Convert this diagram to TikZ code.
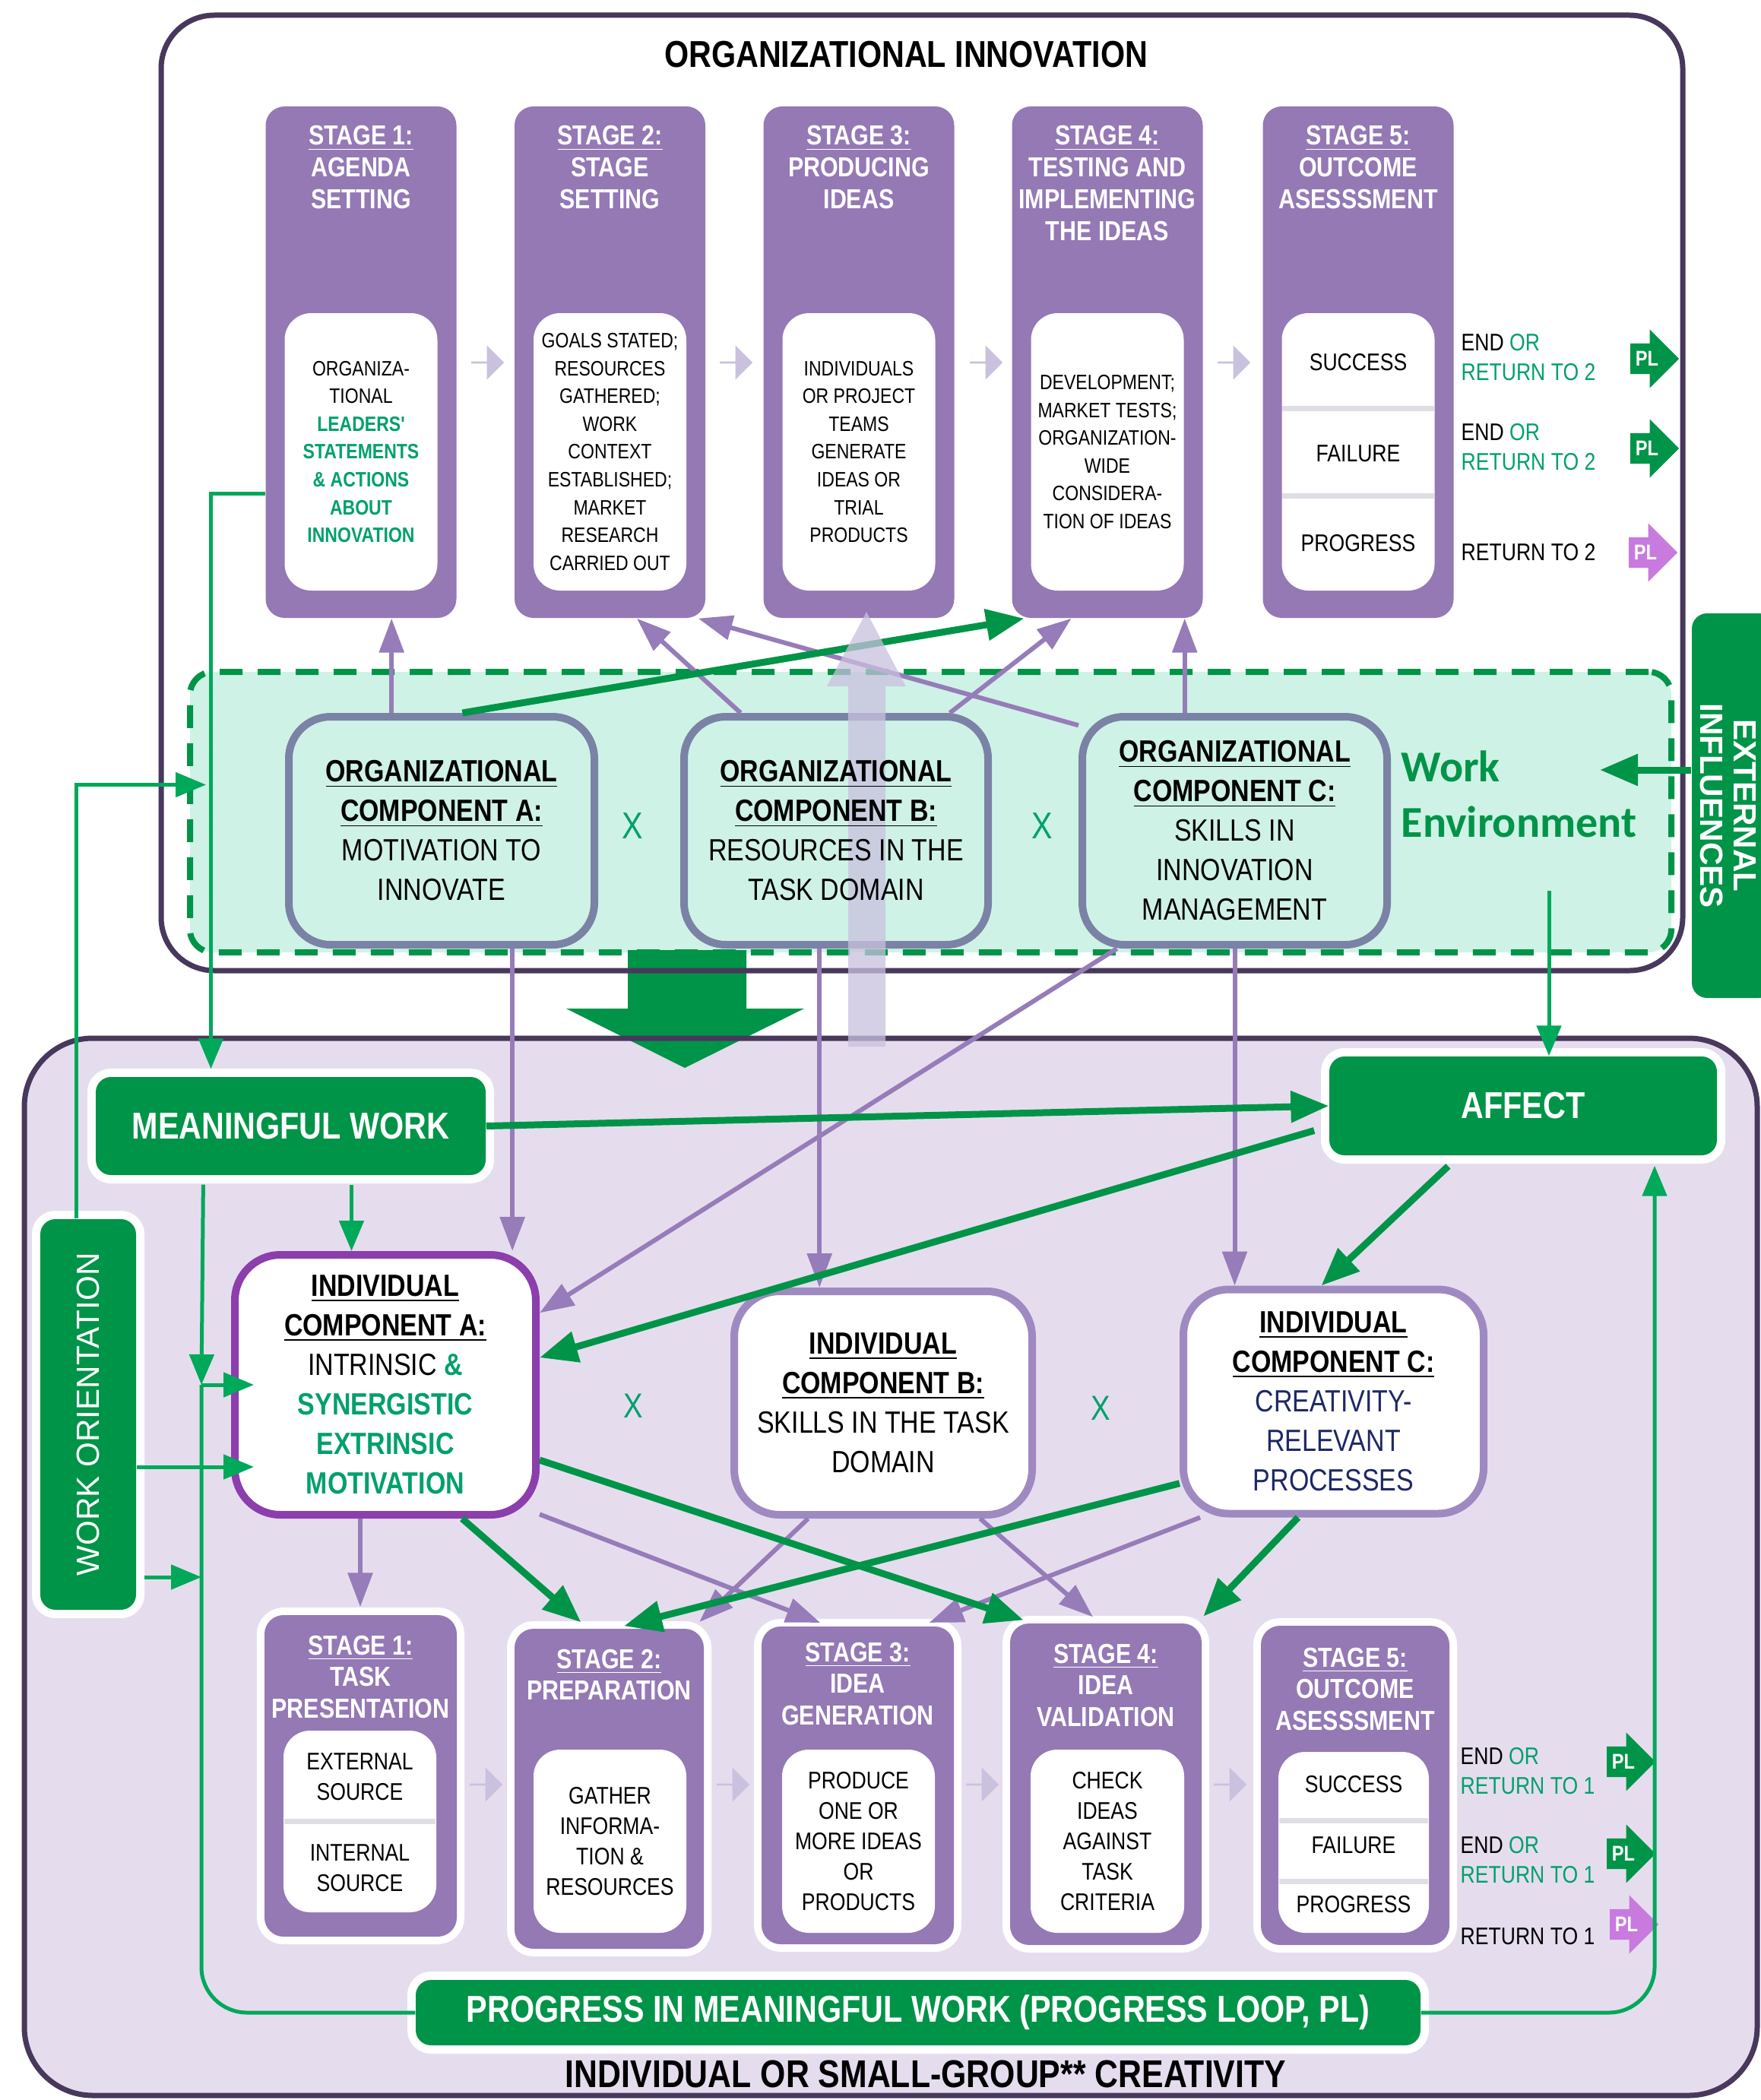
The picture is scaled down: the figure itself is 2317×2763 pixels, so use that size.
\documentclass[tikz,border=0pt]{standalone}
\usepackage{fontspec}
\setmainfont{Liberation Sans}
\newfontfamily\nar[FakeStretch=0.84]{Liberation Sans}
\newfontfamily\calib{Carlito}
\usetikzlibrary{arrows.meta,shapes.arrows,calc}

\definecolor{stagepurple}{RGB}{148,121,181}
\definecolor{lavbg}{RGB}{229,221,238}
\definecolor{mintbg}{RGB}{207,242,230}
\definecolor{darkrim}{RGB}{72,56,92}
\definecolor{orgrim}{RGB}{122,130,165}
\definecolor{indrimA}{RGB}{139,62,172}
\definecolor{indrim}{RGB}{158,138,192}
\definecolor{gfill}{RGB}{0,148,72}
\definecolor{gline}{RGB}{0,168,90}
\definecolor{gtext}{RGB}{0,160,108}
\definecolor{purparrow}{RGB}{150,124,185}
\definecolor{smallarr}{RGB}{201,193,222}
\definecolor{plpink}{RGB}{200,122,222}
\definecolor{navy}{RGB}{30,40,100}
\definecolor{divgrey}{RGB}{222,222,228}

\newcommand{\ubf}[1]{\underline{\textbf{#1}}}
\newcommand{\gb}[1]{\textcolor{gtext}{\textbf{#1}}}

\tikzset{
  stagebox/.style={fill=stagepurple, rounded corners=2.5mm, inner sep=0},
  ringbox/.style={stagebox, preaction={draw=white, line width=2mm}},
  innerbox/.style={fill=white, rounded corners=3.5mm, inner sep=0},
  headtxt/.style={text=white, font=\nar\bfseries\fontsize{10.3}{11.9}\selectfont, align=center, inner sep=0, anchor=north},
  toptxt/.style={font=\nar\fontsize{7.8}{10.4}\selectfont, align=center, inner sep=0},
  bottxt/.style={font=\nar\fontsize{9}{11.4}\selectfont, align=center, inner sep=0},
  comptxt/.style={align=center, inner sep=0, font=\nar\fontsize{11.5}{14.8}\selectfont},
  orgcomp/.style={comptxt, draw=orgrim, line width=1mm, fill=mintbg, rounded corners=5.5mm, minimum height=30mm, minimum width=40mm},
  indcomp/.style={comptxt, draw=indrim, line width=1mm, fill=white, rounded corners=6mm},
  greenbox/.style={fill=gfill, text=white, rounded corners=2mm, inner sep=0, preaction={draw=white, line width=2.2mm}, font=\nar\bfseries\fontsize{14}{16}\selectfont},
  endlab/.style={font=\nar\fontsize{9}{11}\selectfont, align=left, inner sep=0, anchor=west},
  plarrow/.style={single arrow, fill=#1, text=white, font=\nar\bfseries\fontsize{8}{8}\selectfont, inner sep=0.6mm, minimum height=6.4mm, minimum width=7.7mm, single arrow head extend=1.5mm, anchor=tip},
  steparrow/.style={single arrow, fill=smallarr, inner sep=0, minimum height=4.3mm, minimum width=4.5mm, single arrow head extend=1.1mm},
  xmark/.style={text=gtext, font=\nar\fontsize{14}{14}\selectfont, inner sep=0},
  parr/.style={draw=purparrow, line width=0.6mm, -{Triangle[length=4.5mm, width=3.2mm]}},
  garr/.style={draw=gfill, line width=0.9mm, -{Triangle[length=5mm, width=4mm]}},
  gthin/.style={draw=gline, line width=0.5mm, -{Triangle[length=4mm, width=3.2mm]}},
}

\begin{document}
\begin{tikzpicture}[x=0.1mm, y=-0.1mm]
  \useasboundingbox (0,0) rectangle (2317,2763);
  \fill[white] (0,0) rectangle (2317,2763);

  % panels
  \fill[lavbg, rounded corners=9mm] (32,1366) rectangle (2312,2757);
  \node[fill=mintbg, draw=gfill, line width=0.8mm, dash pattern=on 3mm off 2mm, rounded corners=3mm,
        minimum width=194.9mm, minimum height=36.9mm, inner sep=0] (we) at (1224.5,1068.5) {};

  % big arrow down
  \fill[gfill] (826,1250) -- (982,1250) -- (982,1327) -- (1058,1327) -- (901,1405)
    -- (745,1327) -- (826,1327) -- cycle;

  \draw[darkrim, line width=0.7mm, rounded corners=9mm] (32,1366) rectangle (2312,2757);
  \draw[darkrim, line width=0.7mm, rounded corners=7mm] (212,20) rectangle (2214,1277);

  \node[font=\nar\bfseries\fontsize{14}{16}\selectfont] (ttl) at (1192,72) {ORGANIZATIONAL INNOVATION};

  % organizational stages
  \foreach \i/\cx in {1/475,2/802.5,3/1130,4/1457,5/1787} {
    \node[stagebox, minimum width=25.1mm, minimum height=67.3mm] (os\i) at (\cx,476.5) {};
    \node[innerbox, minimum width=20.1mm, minimum height=36.5mm] (oi\i) at (\cx,594.5) {};
  }
  \foreach \i/\cx/\txt in {1/475/{AGENDA\\SETTING}, 2/802.5/{STAGE\\SETTING}, 3/1130/{PRODUCING\\IDEAS},
      4/1457/{TESTING AND\\IMPLEMENTING\\THE IDEAS}, 5/1787/{OUTCOME\\ASESSSMENT}}
    \node[headtxt] (oh\i) at (\cx,165) {\underline{STAGE \i:}\\\txt};

  \node[toptxt] (ot1) at (oi1) {ORGANIZA-\\TIONAL\\\gb{LEADERS'}\\\gb{STATEMENTS}\\\gb{\& ACTIONS}\\\gb{ABOUT}\\\gb{INNOVATION}};
  \node[toptxt] (ot2) at (oi2) {GOALS STATED;\\RESOURCES\\GATHERED;\\WORK\\CONTEXT\\ESTABLISHED;\\MARKET\\RESEARCH\\CARRIED OUT};
  \node[toptxt] (ot3) at (oi3) {INDIVIDUALS\\OR PROJECT\\TEAMS\\GENERATE\\IDEAS OR\\TRIAL\\PRODUCTS};
  \node[toptxt] (ot4) at (oi4) {DEVELOPMENT;\\MARKET TESTS;\\ORGANIZATION-\\WIDE\\CONSIDERA-\\TION OF IDEAS};

  \draw[divgrey, line width=0.7mm] (1687,537) -- (1887,537) (1687,652) -- (1887,652);
  \node[bottxt] (o5a) at (1787,477) {SUCCESS};
  \node[bottxt] (o5b) at (1787,597) {FAILURE};
  \node[bottxt] (o5c) at (1787,715) {PROGRESS};

  \foreach \j/\ax in {1/641,2/968,3/1297,4/1623}
    \node[steparrow] (ta\j) at (\ax,477) {};

  \node[endlab] (ol1) at (1922,470) {END \textcolor{gtext}{OR}\\\textcolor{gtext}{RETURN TO 2}};
  \node[endlab] (ol2) at (1922,588) {END \textcolor{gtext}{OR}\\\textcolor{gtext}{RETURN TO  2}};
  \node[endlab] (ol3) at (1922,727) {RETURN TO 2};
  \node[plarrow=gfill] (op1) at (2210,472) {PL};
  \node[plarrow=gfill] (op2) at (2210,590) {PL};
  \node[plarrow=plpink] (op3) at (2208,727) {PL};

  % external influences
  \node[fill=gfill, rounded corners=2mm, minimum width=10.8mm, minimum height=50.6mm, inner sep=0] (ext) at (2280,1060) {};
  \node[text=white, inner sep=0, font=\bfseries\fontsize{12}{12.5}\selectfont] (extt) at (2268,1060)
        {\rotatebox{-90}{\begin{tabular}{@{}c@{}}EXTERNAL\\INFLUENCES\end{tabular}}};

  % organizational components
  \node[orgcomp, minimum width=40.2mm] (oa) at (581,1093) {\ubf{ORGANIZATIONAL}\\\ubf{COMPONENT A:}\\MOTIVATION TO\\INNOVATE};
  \node[orgcomp] (ob) at (1100,1093) {};
  \node[orgcomp, minimum width=40.1mm] (oc) at (1624.5,1093) {\ubf{ORGANIZATIONAL}\\\ubf{COMPONENT C:}\\SKILLS IN\\INNOVATION\\MANAGEMENT};
  \node[xmark] (xo1) at (832,1087) {X};
  \node[xmark] (xo2) at (1371,1087) {X};
  \node[anchor=west, align=left, inner sep=0, text=gfill, font=\calib\bfseries\fontsize{16.5}{20.8}\selectfont] (wel) at (1843,1045) {Work\\Environment};

  % links inside the organization
  \draw[parr] (oa.113) -- (oa.113 |- os1.south);
  \draw[parr] (ob.129) -- (os2.-84);
  \draw[parr] (ob.46) -- (os4.-98);
  \draw[parr] (oc.146) -- (os2.-71);
  \draw[parr] (oc.113) -- (oc.113 |- os4.south);
  \draw[garr] (oa.80) -- (os4.-108);

  \coordinate (weR) at (2105,1013);
  \draw[garr] (weR -| ext.west) -- (weR);

  % individual components
  \node[greenbox, minimum width=51.3mm, minimum height=12.9mm] (mw) at (382.5,1481.5) {MEANINGFUL WORK};
  \node[greenbox, minimum width=51mm, minimum height=13mm] (af) at (2004,1455) {AFFECT};
  \node[greenbox, minimum width=12.6mm, minimum height=51.4mm, font=\fontsize{12}{14}\selectfont] (wo) at (116,1861) {\rotatebox{90}{WORK ORIENTATION}};

  \node[indcomp, draw=indrimA, minimum width=39.6mm, minimum height=34.2mm] (ia) at (507,1822)
    {\ubf{INDIVIDUAL}\\\ubf{COMPONENT A:}\\INTRINSIC \gb{\&}\\\gb{SYNERGISTIC}\\\gb{EXTRINSIC}\\\gb{MOTIVATION}};
  \node[indcomp, minimum width=39.2mm, minimum height=29.4mm] (ib) at (1162,1846)
    {\ubf{INDIVIDUAL}\\\ubf{COMPONENT B:}\\SKILLS IN THE TASK\\DOMAIN};
  \node[indcomp, minimum width=39.5mm, minimum height=29.5mm] (ic) at (1754.5,1844)
    {\ubf{INDIVIDUAL}\\\ubf{COMPONENT C:}\\\textcolor{navy}{CREATIVITY-}\\\textcolor{navy}{RELEVANT}\\\textcolor{navy}{PROCESSES}};
  \node[xmark, font=\nar\fontsize{13}{13}\selectfont] (xi1) at (833,1850) {X};
  \node[xmark, font=\nar\fontsize{13}{13}\selectfont] (xi2) at (1448,1853) {X};

  % creativity stages
  \node[ringbox, minimum width=25.3mm, minimum height=42.3mm] (bs1) at (474.5,2336.5) {};
  \node[ringbox, minimum width=24.9mm, minimum height=42.1mm] (bs2) at (801.5,2353.5) {};
  \node[ringbox, minimum width=25.3mm, minimum height=41.8mm] (bs3) at (1128.5,2349) {};
  \node[ringbox, minimum width=25.2mm, minimum height=42.3mm] (bs4) at (1455,2347.5) {};
  \node[ringbox, minimum width=24.8mm, minimum height=42mm] (bs5) at (1783,2349) {};

  \node[headtxt] (bh1) at (474.5,2151) {\underline{STAGE 1:}\\TASK\\PRESENTATION};
  \node[headtxt] (bh2) at (801.5,2169) {\underline{STAGE 2:}\\PREPARATION};
  \node[headtxt] (bh3) at (1128.5,2160) {\underline{STAGE 3:}\\IDEA\\GENERATION};
  \node[headtxt] (bh4) at (1455,2162) {\underline{STAGE 4:}\\IDEA\\VALIDATION};
  \node[headtxt] (bh5) at (1783,2167) {\underline{STAGE 5:}\\OUTCOME\\ASESSSMENT};

  \node[innerbox, minimum width=20.1mm, minimum height=23.9mm] (bi1) at (473.5,2396.5) {};
  \node[innerbox, minimum width=20.1mm, minimum height=24.1mm] (bi2) at (802.5,2422.5) {};
  \node[innerbox, minimum width=20.1mm, minimum height=24.1mm] (bi3) at (1129.5,2422.5) {};
  \node[innerbox, minimum width=20.2mm, minimum height=24.1mm] (bi4) at (1457,2422.5) {};
  \node[innerbox, minimum width=19.8mm, minimum height=23.8mm] (bi5) at (1781,2424) {};
  \draw[divgrey, line width=0.7mm] (374,2396) -- (573,2396) (1683,2395) -- (1879,2395) (1683,2475) -- (1879,2475);

  \node[bottxt] (bt1a) at (473.5,2338) {EXTERNAL\\SOURCE};
  \node[bottxt] (bt1b) at (473.5,2458) {INTERNAL\\SOURCE};
  \node[bottxt] (bt2) at (bi2) {GATHER\\INFORMA-\\TION \&\\RESOURCES};
  \node[bottxt] (bt3) at (bi3) {PRODUCE\\ONE OR\\MORE IDEAS\\OR\\PRODUCTS};
  \node[bottxt] (bt4) at (bi4) {CHECK\\IDEAS\\AGAINST\\TASK\\CRITERIA};
  \node[bottxt] (bt5a) at (1781,2348) {SUCCESS};
  \node[bottxt] (bt5b) at (1781,2428) {FAILURE};
  \node[bottxt] (bt5c) at (1781,2506) {PROGRESS};

  \foreach \j/\ax in {1/639,2/964,3/1292,4/1618}
    \node[steparrow] (ba\j) at (\ax,2348) {};

  \node[endlab] (bl1) at (1921,2330) {END \textcolor{gtext}{OR}\\\textcolor{gtext}{RETURN TO 1}};
  \node[endlab] (bl2) at (1921,2447) {END \textcolor{gtext}{OR}\\\textcolor{gtext}{RETURN TO 1}};
  \node[endlab] (bl3) at (1921,2548) {RETURN TO 1};
  \node[plarrow=gfill] (bp1) at (2179,2318) {PL};
  \node[plarrow=gfill] (bp2) at (2179,2439) {PL};
  \node[plarrow=plpink] (bp3) at (2183,2532) {PL};

  \node[greenbox, minimum width=132.2mm, minimum height=8.6mm] (pl) at (1208,2648) {PROGRESS IN MEANINGFUL WORK (PROGRESS LOOP, PL)};
  \node[font=\nar\bfseries\fontsize{14.5}{16}\selectfont] (cap) at (1218,2729) {INDIVIDUAL OR SMALL-GROUP** CREATIVITY};

  % organization to individual
  \draw[parr] (oa.-59) -- (oa.-59 |- ia.north);
  \draw[parr] (ob.-98) -- (ob.-98 |- ib.north);
  \draw[parr] (oc.south) -- (oc.south |- ic.north);
  \draw[parr] (oc.-135) -- (ia.25);

  % components to creativity stages
  \draw[parr, shorten >=1mm] ([xshift=-3.3mm]ia.south) -- ([xshift=-3.3mm]ia.south |- bs1.north);
  \draw[parr, shorten >=1.2mm] (ia.-40) -- ([xshift=-3.8mm]bs3.north);
  \draw[parr, shorten >=1.2mm] (ib.-123) -- ([xshift=11mm]bs2.north);
  \draw[parr, shorten >=1.2mm] (ib.-50) -- ([xshift=-0.8mm]bs4.north);
  \draw[parr, shorten >=1.2mm] (ic.-139) -- ([xshift=8.3mm]bs3.north);
  \draw[garr, shorten >=1.2mm] ([xshift=10.1mm]ia.south) -- ([xshift=-2.8mm]bs2.north);
  \draw[garr, shorten >=1.2mm] (ia.-26) -- ([xshift=-9.7mm]bs4.north);
  \draw[garr, shorten >=1.2mm] (ic.208) -- ([xshift=0.8mm]bs2.north);
  \draw[garr, shorten >=1.2mm] (ic.-107) -- ([xshift=12mm]bs4.north);

  % affect and meaningful work
  \draw[garr] (mw.east) -- (af.west);
  \draw[garr, shorten <=2mm] (af.186) -- (ia.10);
  \draw[garr, shorten <=2mm] (af.218) -- (ic.96);

  \coordinate (weaf) at (2038,1172);
  \draw[gthin] (weaf) -- (weaf |- af.north);
  \draw[gthin, shorten >=1mm] ([yshift=-17.3mm]os1.west) -| ([xshift=-10.5mm]mw.north);
  \draw[gthin, shorten >=-2.5mm] ([xshift=-1.6mm]wo.north) |- ([yshift=3.6mm]we.west);

  \coordinate (loopc) at ([xshift=-3.9mm]ia.west);
  \draw[gline, line width=0.5mm, rounded corners=6mm] (pl.west) -| (loopc);
  \draw[gthin, shorten >=-3mm] (loopc) -- (ia.west);
  \draw[gthin, shorten <=1.2mm] ([xshift=-11.5mm]mw.south) -- (loopc);
  \draw[gthin, shorten <=1.2mm] ([xshift=8mm]mw.south) -- ([xshift=8mm]mw.south |- ia.north);
  \draw[gthin, shorten >=-3mm] ([yshift=-6.9mm]wo.east) -- ([yshift=-6.9mm]wo.east -| ia.west);
  \draw[gthin, shorten <=1mm] ([yshift=-21.4mm]wo.east) -- ([yshift=-21.4mm]wo.east -| loopc);
  \draw[gthin, rounded corners=6mm, shorten >=1.3mm] (pl.east) -| ([xshift=17.3mm]af.south);

  % resources feedback
  \fill[smallarr, opacity=0.75] (1116,1377) -- (1116,903) -- (1088,903) -- (1140,805) -- (1192,903)
    -- (1165,903) -- (1165,1377) -- cycle;
  \node[comptxt] (obt) at (ob) {\ubf{ORGANIZATIONAL}\\\ubf{COMPONENT B:}\\RESOURCES IN THE\\TASK DOMAIN};
\end{tikzpicture}
\end{document}
